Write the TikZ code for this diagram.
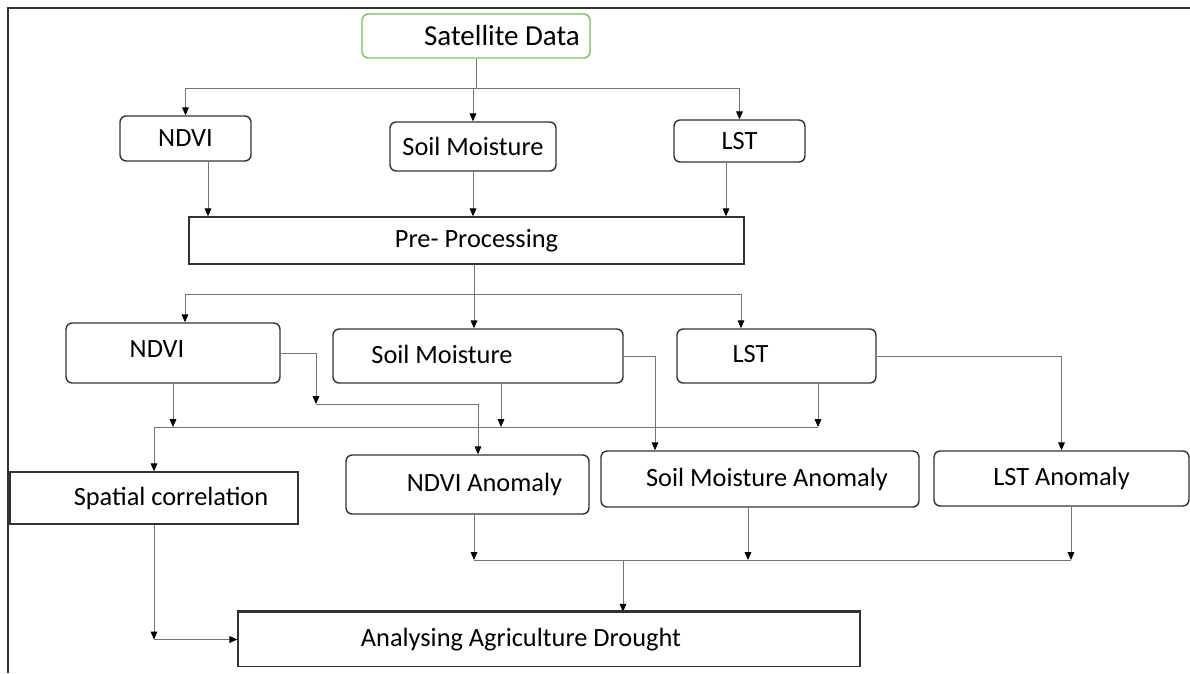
\documentclass[tikz,border=0pt]{standalone}
\usepackage{fontspec}
\setmainfont{Carlito}
\usepackage{xcolor}
\usetikzlibrary{arrows.meta}

\definecolor{boxline}{RGB}{50,50,50}
\definecolor{linkgray}{RGB}{115,115,115}
\definecolor{satgreen}{RGB}{125,190,95}
\newcommand{\shifttext}[2]{\makebox[0pt]{\hspace*{#1}\hspace*{#1}#2}}

\begin{document}
\begin{tikzpicture}[x=0.02cm,y=-0.02cm,>={Triangle[length=4.5pt,width=3.8pt,color=black]},
    rbox/.style={draw=boxline,line width=0.8pt,rounded corners=3.5pt,inner sep=0pt,font=\fontsize{15}{17}\selectfont},
    sbox/.style={rbox,sharp corners},
    ln/.style={draw=linkgray,line width=0.5pt},
    arr/.style={ln,->}]
  \useasboundingbox (0,0) rectangle (1190,673);
  \draw[line width=1.1pt,boxline] (8,673) -- (8,8) -- (1190,8);

  \node[rbox,draw=satgreen,minimum width=4.56cm,minimum height=0.88cm,font=\fontsize{16.5}{18}\selectfont] (sat) at (476,36) {\shifttext{0.52cm}{Satellite Data}};
  \node[rbox,minimum width=2.62cm,minimum height=0.9cm] (ndviA) at (185.5,138.5) {NDVI};
  \node[rbox,minimum width=3.32cm,minimum height=0.98cm] (smA) at (473,146.5) {Soil Moisture};
  \node[rbox,minimum width=2.62cm,minimum height=0.84cm] (lstA) at (739.5,141) {LST};
  \node[sbox,minimum width=11.1cm,minimum height=0.94cm] (pre) at (466.5,240.5) {\shifttext{0.2cm}{Pre- Processing}};
  \node[rbox,minimum width=4.28cm,minimum height=1.2cm] (ndviB) at (173,353) {\shifttext{-0.32cm}{\raisebox{5pt}{NDVI}}};
  \node[rbox,minimum width=5.8cm,minimum height=1.08cm] (smB) at (478,356) {\shifttext{-0.72cm}{\raisebox{2pt}{Soil Moisture}}};
  \node[rbox,minimum width=3.98cm,minimum height=1.08cm] (lstB) at (776.5,356) {\shifttext{-0.52cm}{\raisebox{2pt}{LST}}};
  \node[sbox,minimum width=5.76cm,minimum height=1.04cm] (spat) at (154,498) {\shifttext{0.34cm}{Spatial correlation}};
  \node[rbox,minimum width=4.86cm,minimum height=1.18cm] (ndviAn) at (467.5,484.5) {\shifttext{0.34cm}{NDVI Anomaly}};
  \node[rbox,minimum width=6.36cm,minimum height=1.12cm] (smAn) at (760,479) {\shifttext{0.14cm}{Soil Moisture Anomaly}};
  \node[rbox,minimum width=5.1cm,minimum height=1.1cm] (lstAn) at (1061.5,478.5) {LST Anomaly};
  \node[sbox,minimum width=12.44cm,minimum height=1.08cm] (ana) at (549,639.5) {\shifttext{-0.56cm}{Analysing Agriculture Drought}};

  \coordinate (r1) at (0,88);
  \coordinate (r2) at (0,294);
  \coordinate (rA) at (0,404);
  \coordinate (r3) at (0,427);
  \coordinate (r4) at (0,560);
  \coordinate (q1) at (208,0);
  \coordinate (q3) at (726,0);
  \coordinate (k0) at (474,0);
  \coordinate (k1) at (185,0);
  \coordinate (k3) at (741,0);
  \coordinate (m1) at (316,0);
  \coordinate (m2) at (478,0);
  \coordinate (n1) at (655,0);
  \coordinate (w2) at (501,0);
  \coordinate (w3) at (818,0);
  \coordinate (u0) at (623,0);
  \coordinate (u1) at (474,0);
  \coordinate (u2) at (748,0);
  \coordinate (u3) at (1071,0);

  \draw[ln] (sat.south) -- (sat.south |- r1);
  \draw[ln] (ndviA.north |- r1) -- (lstA.north |- r1);
  \foreach \n in {ndviA,smA,lstA} \draw[arr] (\n.north |- r1) -- (\n.north);
  \draw[arr] (q1 |- ndviA.south) -- (q1 |- pre.north);
  \draw[arr] (smA.south) -- (smA.south |- pre.north);
  \draw[arr] (q3 |- lstA.south) -- (q3 |- pre.north);

  \draw[ln] (k0 |- pre.south) -- (k0 |- r2);
  \draw[ln] (k1 |- r2) -- (k3 |- r2);
  \foreach \c/\n in {k1/ndviB,k0/smB,k3/lstB} \draw[arr] (\c |- r2) -- (\c |- \n.north);

  \draw[arr] (ndviB.south) -- (ndviB.south |- r3);
  \draw[arr] (w2 |- smB.south) -- (w2 |- r3);
  \draw[arr] (w3 |- lstB.south) -- (w3 |- r3);
  \draw[ln] (spat.north |- r3) -- (w3 |- r3);
  \draw[arr] (spat.north |- r3) -- (spat.north);

  \draw[arr] (ndviB.east) -| (m1 |- rA);
  \draw[arr] (m1 |- rA) -| (m2 |- ndviAn.north);
  \draw[arr] (smB.east) -| (n1 |- smAn.north);
  \draw[arr] (lstB.east) -| (lstAn.north);

  \foreach \c/\n in {u1/ndviAn,u2/smAn,u3/lstAn} \draw[arr] (\c |- \n.south) -- (\c |- r4);
  \draw[ln] (u1 |- r4) -- (u3 |- r4);
  \draw[arr] (u0 |- r4) -- (u0 |- ana.north);
  \draw[arr] (spat.south) -- (spat.south |- ana.west);
  \draw[arr] (spat.south |- ana.west) -- (ana.west);
  \draw[line width=1.6pt,boxline] (ana.north west) -- (ana.north east);
\end{tikzpicture}
\end{document}
